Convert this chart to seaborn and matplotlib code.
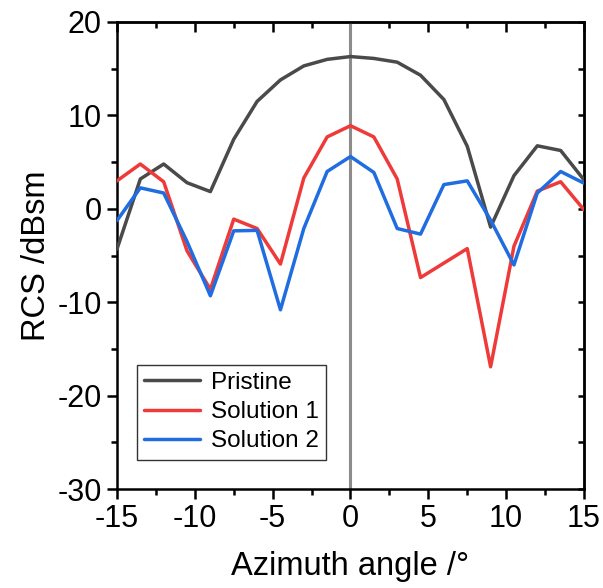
import numpy as np
import pandas as pd
import matplotlib
matplotlib.use("Agg")
import matplotlib.pyplot as plt
import seaborn as sns

# 方位角 (deg)
angles = [-15, -13.5, -12, -10.5, -9, -7.5, -6, -4.5, -3, -1.5, 0,
          1.5, 3, 4.5, 6, 7.5, 9, 10.5, 12, 13.5, 15]

# RCS (dBsm)
pristine = [-4.3, 3.2, 4.8, 2.8, 1.85, 7.45, 11.5, 13.8, 15.3, 16.0, 16.3,
            16.1, 15.7, 14.3, 11.7, 6.7, -1.95, 3.55, 6.75, 6.25, 3.1]
solution1 = [3.0, 4.8, 2.9, -4.5, -8.6, -1.1, -2.1, -5.9, 3.3, 7.7, 8.9,
             7.7, 3.2, -7.35, -5.8, -4.25, -16.9, -4.0, 1.9, 2.9, -0.1]
solution2 = [-1.25, 2.25, 1.7, -3.5, -9.3, -2.35, -2.3, -10.8, -2.1, 4.0, 5.6,
             3.9, -2.1, -2.7, 2.6, 3.0, -1.2, -6.0, 1.7, 4.0, 2.75]

series_names = ["Pristine", "Solution 1", "Solution 2"]
colors = ["#4a4a4a", "#ef3a3a", "#1f6de0"]

df = pd.DataFrame({
    "angle": angles * 3,
    "rcs": pristine + solution1 + solution2,
    "series": np.repeat(series_names, len(angles)),
})

sns.set_style("white")
plt.rcParams["font.family"] = ["Liberation Sans", "DejaVu Sans"]
plt.rcParams["axes.unicode_minus"] = False
plt.rcParams["text.color"] = "black"
plt.rcParams["axes.labelcolor"] = "black"

fig = plt.figure(figsize=(6.03, 5.88), dpi=100)
ax = fig.add_axes([0.194, 0.168, 0.7745, 0.7946])

# 0度参考线
ax.axvline(0, color="#8c8c8c", lw=2.2, zorder=1)

sns.lineplot(data=df, x="angle", y="rcs", hue="series", hue_order=series_names,
             palette=colors, linewidth=2.5, ax=ax, zorder=3)

ax.set_xlim(-15, 15)
ax.set_ylim(-30, 20)
ax.set_xticks(np.arange(-15, 16, 5))
ax.set_xticks(np.arange(-12.5, 15, 5), minor=True)
ax.set_yticks(np.arange(-30, 21, 10))
ax.set_yticks(np.arange(-25, 20, 10), minor=True)

ax.set_xlabel("Azimuth angle /°", fontsize=23.5, labelpad=12, color="black")
ax.set_ylabel("RCS /dBsm", fontsize=23.5, labelpad=4, color="black")

for s in ax.spines.values():
    s.set_linewidth(1.8)
    s.set_color("black")

ax.tick_params(which="both", bottom=True, left=True, top=False, right=False)
ax.tick_params(which="major", direction="out", length=7, width=1.8,
               labelsize=22, colors="black", labelcolor="black", pad=4)
ax.tick_params(which="minor", direction="out", length=4, width=1.8, colors="black")

# 上/右侧刻度朝内
top = ax.secondary_xaxis("top")
top.set_xticks(np.arange(-15, 16, 5))
top.set_xticks(np.arange(-12.5, 15, 5), minor=True)
top.tick_params(which="both", top=True, labeltop=False, direction="in", width=1.8, colors="black")
top.tick_params(which="major", length=7)
top.tick_params(which="minor", length=4)
top.spines["top"].set_linewidth(1.8)
right = ax.secondary_yaxis("right")
right.set_yticks(np.arange(-30, 21, 10))
right.set_yticks(np.arange(-25, 20, 10), minor=True)
right.tick_params(which="both", right=True, labelright=False, direction="in",
                  length=4, width=1.8, colors="black")
right.spines["right"].set_linewidth(1.8)

leg = ax.legend(loc="lower left", bbox_to_anchor=(0.043, 0.063), fontsize=17.5,
                frameon=True, fancybox=False, borderpad=0.3, labelspacing=0.3,
                handlelength=2.3, handletextpad=0.45, borderaxespad=0)
leg.get_frame().set_edgecolor("black")
leg.get_frame().set_linewidth(1.0)
for t in leg.get_texts():
    t.set_color("black")

fig.savefig("out.png", dpi=100)
